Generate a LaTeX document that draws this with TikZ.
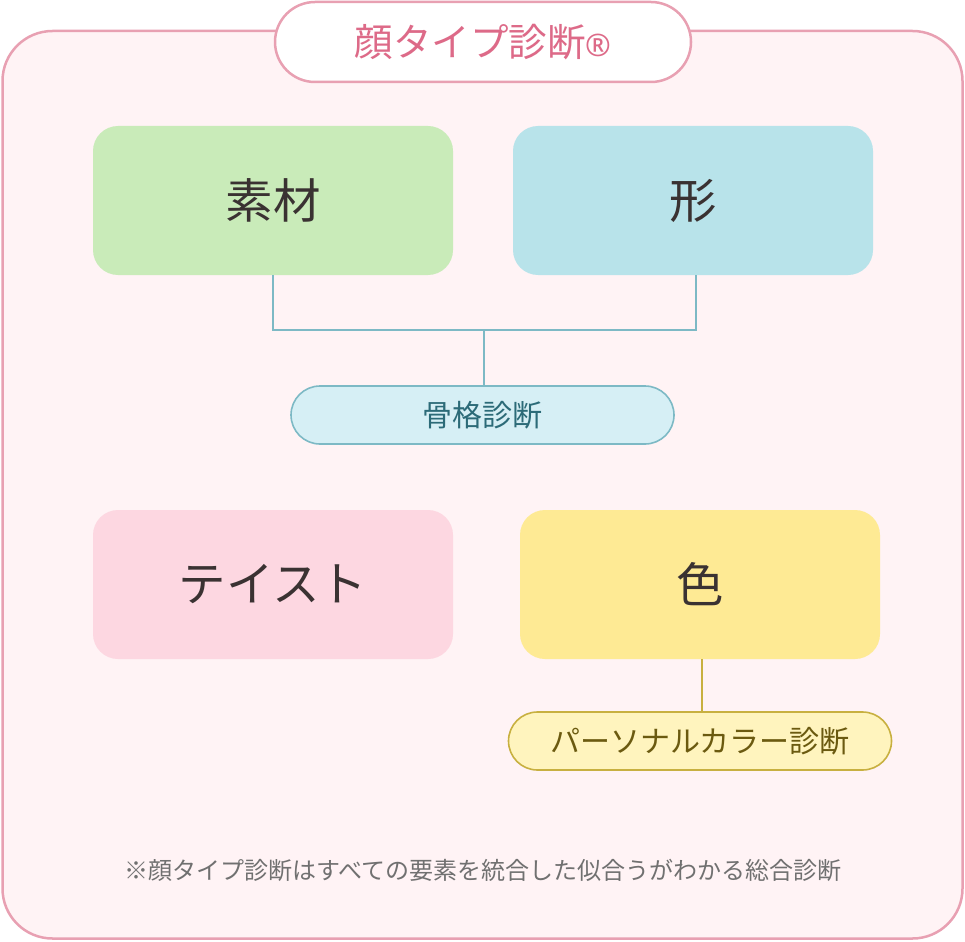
\documentclass[tikz,border=0pt]{standalone}
\usepackage{fontspec}
\setmainfont{Noto Sans CJK JP}
\newfontfamily\regfont{Noto Sans}
\definecolor{outerline}{HTML}{E8A0B2}
\definecolor{outerfill}{HTML}{FFF3F5}
\definecolor{titletext}{HTML}{DD6A88}
\definecolor{sozaifill}{HTML}{C9EBB9}
\definecolor{katachifill}{HTML}{B8E3EA}
\definecolor{tastefill}{HTML}{FDD7E1}
\definecolor{irofill}{HTML}{FEEA94}
\definecolor{bonefill}{HTML}{D6EFF5}
\definecolor{boneline}{HTML}{7DB9C5}
\definecolor{bonetext}{HTML}{2C6B78}
\definecolor{pcfill}{HTML}{FFF4BE}
\definecolor{pcline}{HTML}{C8B040}
\definecolor{pctext}{HTML}{6B5A10}
\definecolor{maintext}{HTML}{3A3232}
\definecolor{notetext}{HTML}{707070}
\tikzset{
  bigbox/.style={rounded corners=25pt, minimum width=360pt, minimum height=149pt, inner sep=0pt, font=\fontsize{47.5}{52}\selectfont, text=maintext},
  pill/.style={rounded corners=29pt, minimum width=383pt, minimum height=58pt, inner sep=0pt, line width=1.6pt, font=\fontsize{30}{33}\selectfont},
  bonelink/.style={draw=boneline, line width=2.2pt},
  pclink/.style={draw=pcline, line width=2.2pt}
}
\begin{document}
\begin{tikzpicture}[x=1pt,y=-1pt]
\useasboundingbox (0,0) rectangle (965,941);
\draw[outerline, fill=outerfill, line width=2.5pt, rounded corners=50pt] (2.5,31) rectangle (962.5,938.5);
\node[draw=outerline, fill=white, line width=2.5pt, rounded corners=40pt, minimum width=416pt, minimum height=80pt, inner sep=0pt, text=titletext, font=\fontsize{38.5}{41}\selectfont] (title) at (483,42) {顔タイプ診断{\regfont\fontsize{31}{33}\selectfont ®}};
\node[bigbox, fill=sozaifill] (sozai) at (273,200.5) {素材};
\node[bigbox, fill=katachifill] (katachi) at (693,200.5) {形};
\node[bigbox, fill=tastefill] (taste) at (273,584.5) {テイスト};
\node[bigbox, fill=irofill] (iro) at (700,584.5) {色};
\node[pill, draw=boneline, fill=bonefill, text=bonetext] (bone) at (482.5,415) {骨格診断};
\node[pill, draw=pcline, fill=pcfill, text=pctext] (pc) at (700,741) {パーソナルカラー診断};
\coordinate (join) at (484,330);
\draw[bonelink] (sozai.south) |- (join) -| ([xshift=3pt]katachi.south);
\draw[bonelink] (join) -- (join |- bone.north);
\draw[pclink] ([xshift=2pt]iro.south) -- ([xshift=2pt]pc.north);
\node[text=notetext, font=\fontsize{24}{27}\selectfont] (note) at (483,870) {※顔タイプ診断はすべての要素を統合した似合うがわかる総合診断};
\end{tikzpicture}
\end{document}
